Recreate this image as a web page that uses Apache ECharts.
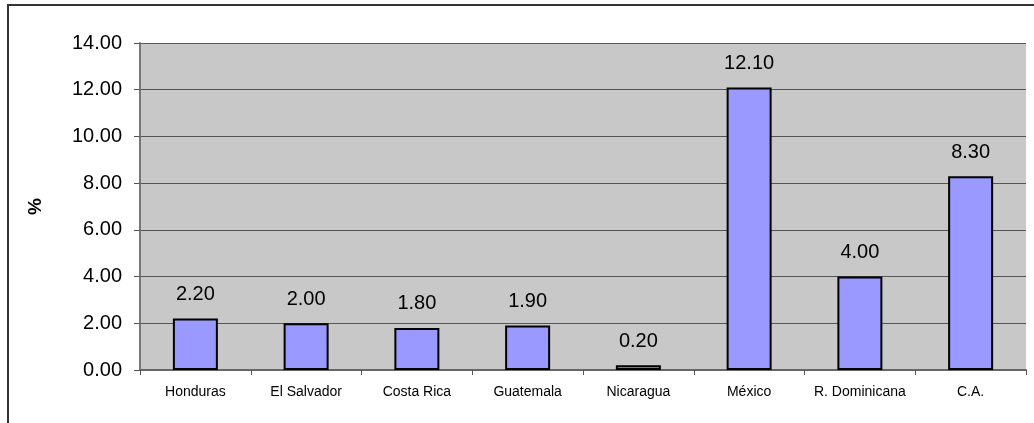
<!DOCTYPE html>
<html>
<head>
<meta charset="utf-8">
<script src="https://cdn.jsdelivr.net/npm/echarts@6/dist/echarts.min.js"></script>
<style>
  html, body { margin: 0; padding: 0; background: #fff; }
  #frame { position: absolute; left: 7px; top: 4px; width: 1030px; height: 425px;
           border-top: 2px solid #333; border-left: 2px solid #333; }
  #chart { position: absolute; left: 0; top: 0; width: 1034px; height: 423px; }
</style>
</head>
<body>
<div id="frame"></div>
<div id="chart"></div>
<script>
const categories = ['Honduras', 'El Salvador', 'Costa Rica', 'Guatemala', 'Nicaragua', 'México', 'R. Dominicana', 'C.A.'];
const values = [2.2, 2.0, 1.8, 1.9, 0.2, 12.1, 4.0, 8.3];

const chart = echarts.init(document.getElementById('chart'));

chart.setOption({
  animation: false,
  textStyle: { fontFamily: 'Liberation Sans, Arial, sans-serif' },
  grid: {
    left: 140, right: 8, top: 43, bottom: 53,
    show: true,
    backgroundColor: '#c8c8c8',
    borderWidth: 0
  },
  xAxis: {
    type: 'category',
    data: categories,
    axisLine: { lineStyle: { color: '#666', width: 2 } },
    axisTick: { show: true, interval: 0, length: 5, lineStyle: { color: '#555' } },
    axisLabel: { color: '#000', fontSize: 14, margin: 15, interval: 0, hideOverlap: false }
  },
  yAxis: {
    type: 'value',
    min: 0, max: 14, interval: 2,
    name: '%',
    nameLocation: 'middle',
    nameGap: 95,
    nameRotate: 90,
    nameTextStyle: { color: '#000', fontSize: 19, fontWeight: 'bold' },
    axisLine: { show: true, lineStyle: { color: '#777', width: 2 } },
    axisTick: { show: true, length: 6, lineStyle: { color: '#555' } },
    axisLabel: {
      color: '#000', fontSize: 20, margin: 18,
      formatter: v => v.toFixed(2)
    },
    splitLine: { lineStyle: { color: '#555', width: 1 } }
  },
  series: [{
    type: 'bar',
    data: values,
    barWidth: 45,
    itemStyle: { color: '#9999ff', borderColor: '#000', borderWidth: 2 },
    label: {
      show: true, position: 'top', distance: 14,
      color: '#000', fontSize: 20,
      formatter: p => p.value.toFixed(2)
    }
  }]
});
</script>
</body>
</html>
